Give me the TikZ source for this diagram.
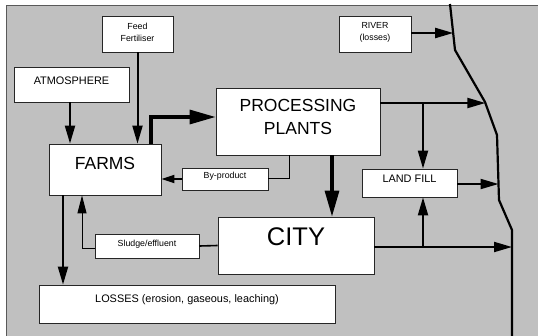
\documentclass[tikz,border=0pt]{standalone}
\usepackage{fontspec}
\setmainfont{Liberation Sans}
\usetikzlibrary{arrows.meta}
\definecolor{bg}{HTML}{C0C0C0}
\definecolor{framecol}{HTML}{595959}
\definecolor{boxline}{HTML}{262626}
\tikzset{
  box/.style={draw=boxline, line width=0.8pt, fill=white, inner sep=0pt},
  txt/.style={inner sep=0pt, align=center, text=black},
  bigfont/.style={font=\fontsize{17.5}{23}\selectfont},
  cityfont/.style={font=\fontsize{25.5}{30}\selectfont},
  medfont/.style={font=\fontsize{10.9}{13}\selectfont},
  smallfont/.style={font=\fontsize{8.8}{12}\selectfont},
  arr/.style={line width=2pt, line join=miter, -{Triangle[length=18pt,width=10pt]}},
  bigarr/.style={line width=3.2pt, line join=miter, -{Triangle[length=26pt,width=14pt]}},
  smallarr/.style={line width=1.8pt, -{Triangle[length=13pt,width=8pt]}},
  thinarr/.style={line width=1pt, line join=miter, -{Triangle[length=18pt,width=9pt]}},
  thinline/.style={line width=1pt, line join=miter},
  midline/.style={line width=1.6pt},
  riverline/.style={line width=2.2pt, line join=round}
}
\begin{document}
\begin{tikzpicture}[x=1pt,y=-1pt]
\useasboundingbox (0,0) rectangle (538,335);
\fill[bg] (6,5) rectangle (540,337);
\draw[framecol, line width=1pt] (6,337) -- (6,5) -- (540,5);

% river
\draw[riverline] (450,4) -- (455,50) -- (485,102) -- (497,135) -- (499,200) -- (512,230) -- (512,336);
\coordinate (r0) at (453.2,33);
\coordinate (r1) at (485.4,103);
\coordinate (r2) at (498.5,184);
\coordinate (r3) at (512,247);
\coordinate (b1) at (423,103);
\coordinate (b2) at (423,247);

% boxes
\node[box, minimum width=71pt, minimum height=36pt,
  label={[txt, smallfont, yshift=2pt]center:{Feed\\Fertiliser}}] (feed) at (137.5,34) {};
\node[box, minimum width=72pt, minimum height=36pt,
  label={[txt, smallfont, yshift=2pt]center:{RIVER\\(losses)}}] (riverbox) at (375,34) {};
\node[box, minimum width=115pt, minimum height=35pt,
  label={[txt, medfont, yshift=3.5pt]center:ATMOSPHERE}] (atmo) at (71.5,84.5) {};
\node[box, minimum width=112pt, minimum height=51pt,
  label={[txt, bigfont, yshift=6.5pt]center:FARMS}] (farms) at (105,169.5) {};
\node[box, minimum width=164pt, minimum height=67pt,
  label={[txt, bigfont, yshift=5pt]center:{PROCESSING\\PLANTS}}] (proc) at (298,121.5) {};
\node[box, minimum width=86pt, minimum height=22pt,
  label={[txt, smallfont, yshift=2.5pt]center:By-product}] (byprod) at (225,179) {};
\node[box, minimum width=156pt, minimum height=57pt,
  label={[txt, cityfont, yshift=8.5pt]center:CITY}] (city) at (296,245.5) {};
\node[box, minimum width=104pt, minimum height=24pt,
  label={[txt, smallfont, yshift=2pt]center:Sludge/effluent}] (sludge) at (147,246) {};
\node[box, minimum width=296pt, minimum height=38pt,
  label={[txt, medfont, yshift=4pt]center:LOSSES (erosion, gaseous, leaching)}] (losses) at (187,304) {};
\node[box, minimum width=95pt, minimum height=28pt,
  label={[txt, medfont, yshift=4pt]center:LAND FILL}] (landfill) at (409.5,183) {};

% connectors
\draw[arr] ([xshift=-1.5pt]atmo.south) -- ([xshift=-1.5pt]atmo.south |- farms.north);
\draw[arr] (feed.south) -- (feed.south |- farms.north);
\draw[bigarr] ([xshift=46pt]farms.north) |- ([yshift=4.5pt]proc.west);
\draw[bigarr] ([xshift=34pt]proc.south) -- ([xshift=34pt]proc.south |- city.north);
\draw[thinline] ([xshift=-9pt]proc.south) |- ([yshift=1pt]byprod.east);
\draw[smallarr] (byprod.west) -- (byprod.west -| farms.east);
\draw[midline] (city.west) -- (sludge.east);
\draw[thinarr] ([yshift=-2pt]sludge.west) -| ([xshift=-23pt]farms.south);
\draw[arr] ([xshift=-42pt]farms.south) -- ([xshift=-42pt]farms.south |- losses.north);
\draw[arr] (riverbox.east |- r0) -- (r0);
\draw[arr] (proc.east |- r1) -- (r1);
\draw[arr] (b1) -- (b1 |- landfill.north);
\draw[arr] (landfill.east |- r2) -- (r2);
\draw[arr] (city.east |- r3) -- (r3);
\draw[arr] (b2) -- (b2 |- landfill.south);
\end{tikzpicture}
\end{document}
